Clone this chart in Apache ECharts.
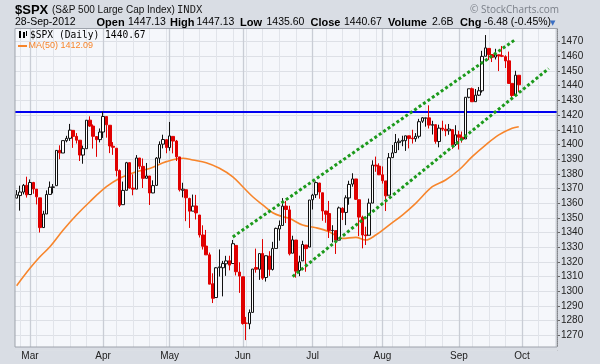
<!DOCTYPE html>
<html><head><meta charset="utf-8">
<script src="https://cdn.jsdelivr.net/npm/echarts@6/dist/echarts.min.js"></script>
<style>html,body{margin:0;padding:0;background:#d9dde4}#c{width:600px;height:364px}</style>
</head><body><div id="c"></div><script>
// ---------- data ----------
const tradingDays = [
  ['2012-02', [24,27,28,29]],
  ['2012-03', [1,2,5,6,7,8,9,12,13,14,15,16,19,20,21,22,23,26,27,28,29,30]],
  ['2012-04', [2,3,4,5,9,10,11,12,13,16,17,18,19,20,23,24,25,26,27,30]],
  ['2012-05', [1,2,3,4,7,8,9,10,11,14,15,16,17,18,21,22,23,24,25,29,30,31]],
  ['2012-06', [1,4,5,6,7,8,11,12,13,14,15,18,19,20,21,22,25,26,27,28,29]],
  ['2012-07', [2,3,5,6,9,10,11,12,13,16,17,18,19,20,23,24,25,26,27,30,31]],
  ['2012-08', [1,2,3,6,7,8,9,10,13,14,15,16,17,20,21,22,23,24,27,28,29,30,31]],
  ['2012-09', [4,5,6,7,10,11,12,13,14,17,18,19,20,21,24,25,26,27,28]],
  ['2012-10', [1,2,3,4,5,8,9,10,11,12,15]]
];
const opens = [
1363.46,1365.20,1367.56,1372.20,
1365.90,1374.09,1369.59,1363.63,1343.39,1352.65,1365.97,1370.78,1371.92,1395.95,1394.17,1402.55,1404.17,1409.59,1405.52,1402.89,1392.78,1397.11,1416.55,1412.52,1405.39,1403.31,
1408.47,1418.98,1413.09,1398.79,1397.45,1382.18,1358.98,1368.77,1387.61,1370.27,1369.57,1390.78,1385.08,1376.96,1378.53,1366.97,1372.11,1390.64,1400.19,1403.26,
1397.86,1405.50,1402.32,1391.51,1368.79,1369.16,1363.20,1354.58,1358.11,1351.93,1338.36,1330.78,1324.82,1305.05,1295.73,1316.09,1316.02,1318.72,1320.81,1318.90,1331.25,1313.09,
1309.87,1278.29,1277.82,1285.61,1316.15,1314.99,1325.72,1309.40,1324.02,1314.88,1329.19,1342.42,1344.83,1358.04,1355.43,1325.92,1334.90,1314.09,1320.71,1331.52,1330.12,
1362.33,1365.75,1373.72,1367.09,1354.66,1352.96,1341.40,1341.29,1334.81,1356.50,1353.68,1363.58,1373.01,1376.51,1362.34,1350.52,1338.35,1338.17,1360.05,1385.94,1385.27,
1379.32,1375.13,1365.45,1391.04,1394.46,1401.23,1402.26,1402.58,1405.87,1404.36,1403.89,1405.57,1415.84,1417.85,1418.13,1413.09,1413.49,1401.99,1411.13,1410.44,1409.32,1410.08,1400.07,
1406.54,1404.94,1403.74,1432.12,1437.92,1429.13,1433.56,1436.56,1460.07,1465.42,1461.19,1459.50,1461.05,1460.34,1459.76,1456.94,1441.60,1433.36,1447.13];
const highs = [
1368.92,1371.94,1373.09,1378.04,
1376.17,1374.53,1369.59,1363.63,1354.85,1368.72,1374.76,1373.04,1396.13,1399.42,1402.63,1405.88,1414.00,1409.59,1407.75,1402.89,1399.18,1416.58,1419.15,1413.65,1405.39,1410.89,
1422.38,1419.00,1413.09,1401.60,1397.45,1383.01,1374.71,1388.13,1387.61,1379.66,1392.76,1390.78,1390.46,1387.40,1378.53,1375.57,1391.37,1402.09,1406.64,1403.26,
1415.32,1405.50,1403.07,1391.51,1373.91,1369.16,1363.73,1365.88,1365.66,1351.93,1344.94,1341.78,1326.36,1312.24,1316.39,1328.49,1320.71,1324.14,1324.20,1334.93,1331.25,1319.74,
1309.87,1282.55,1287.62,1315.13,1329.05,1325.81,1335.52,1324.31,1327.28,1333.68,1343.32,1348.22,1363.46,1361.57,1358.27,1337.82,1334.90,1324.24,1334.40,1331.52,1362.17,
1366.35,1374.81,1373.85,1367.09,1354.87,1361.54,1345.00,1341.29,1357.70,1357.26,1365.36,1375.26,1380.39,1376.51,1362.34,1351.53,1343.98,1363.13,1389.19,1391.74,1387.16,
1385.03,1375.13,1394.16,1399.63,1407.14,1404.14,1405.95,1405.98,1405.87,1410.03,1407.73,1417.44,1418.71,1418.13,1426.68,1416.12,1413.49,1413.46,1416.17,1413.63,1413.95,1410.08,1413.09,
1409.31,1408.81,1432.12,1437.92,1438.74,1437.76,1439.15,1463.76,1474.51,1465.63,1461.47,1465.15,1461.23,1467.07,1460.72,1463.24,1441.60,1450.20,1447.13];
const lows = [
1363.46,1354.92,1365.97,1363.81,
1365.90,1366.42,1359.13,1340.03,1343.39,1352.65,1365.97,1366.69,1371.92,1389.97,1394.17,1401.47,1402.43,1397.68,1400.64,1388.73,1386.87,1397.11,1411.95,1397.20,1391.56,1401.42,
1404.46,1404.62,1394.09,1392.92,1378.24,1357.38,1358.98,1368.77,1369.85,1365.38,1369.57,1383.29,1370.30,1376.96,1358.79,1366.82,1372.11,1387.28,1397.31,1394.00,
1395.73,1393.92,1388.71,1367.96,1363.94,1347.75,1343.13,1354.58,1348.89,1336.61,1328.41,1324.79,1304.86,1291.98,1295.73,1310.04,1296.53,1310.50,1314.23,1318.90,1310.76,1298.90,
1277.25,1266.74,1274.16,1285.61,1312.68,1307.77,1307.73,1306.62,1310.51,1314.14,1329.19,1334.46,1344.83,1346.45,1324.41,1325.92,1309.27,1310.30,1320.71,1313.29,1330.12,
1355.70,1363.53,1363.02,1348.03,1346.65,1336.27,1333.25,1325.41,1334.81,1348.51,1345.07,1358.96,1371.21,1362.19,1337.56,1329.24,1331.50,1338.17,1360.05,1381.37,1379.17,
1373.35,1354.65,1365.45,1391.04,1394.46,1396.13,1398.80,1395.62,1397.32,1400.60,1401.83,1404.15,1414.67,1412.12,1410.86,1406.78,1400.50,1398.04,1409.11,1405.59,1406.57,1397.01,1398.96,
1396.56,1401.25,1403.74,1431.45,1428.98,1429.13,1432.99,1435.34,1460.07,1457.55,1456.13,1457.88,1449.98,1459.51,1452.06,1441.59,1430.53,1433.36,1435.60];
const closes = [
1365.74,1367.59,1372.18,1365.68,
1374.09,1369.63,1364.33,1343.36,1352.63,1365.91,1370.87,1371.09,1395.95,1394.28,1402.60,1404.17,1409.75,1405.52,1402.89,1392.78,1397.11,1416.51,1412.52,1405.54,1403.28,1408.47,
1419.04,1413.38,1398.96,1398.08,1382.20,1358.59,1368.71,1387.57,1370.26,1369.57,1390.78,1385.14,1376.92,1378.53,1366.94,1371.97,1390.69,1399.98,1403.36,1397.91,
1405.82,1402.31,1391.57,1369.10,1369.58,1363.72,1354.58,1357.99,1353.39,1338.35,1330.66,1324.80,1304.86,1295.22,1315.99,1316.63,1318.86,1320.68,1317.82,1332.42,1313.32,1310.33,
1278.04,1278.18,1285.50,1315.13,1314.99,1325.66,1308.93,1324.18,1314.88,1329.10,1342.84,1344.78,1357.98,1355.69,1325.51,1335.02,1313.72,1319.99,1331.85,1329.04,1362.16,
1365.51,1374.02,1367.58,1354.68,1352.46,1341.47,1341.45,1334.76,1356.78,1353.64,1363.67,1372.78,1376.51,1362.66,1350.52,1338.31,1337.89,1360.02,1385.97,1385.30,1379.32,
1375.32,1365.00,1390.99,1394.23,1401.35,1402.22,1402.80,1405.87,1404.11,1403.93,1405.53,1415.51,1418.16,1418.13,1413.17,1413.49,1402.08,1411.13,1410.44,1409.30,1410.49,1399.48,1406.58,
1404.94,1403.44,1432.12,1437.92,1429.08,1433.56,1436.56,1459.99,1465.77,1461.19,1459.32,1461.05,1460.26,1460.15,1456.89,1441.59,1433.32,1447.15,1440.67];
// 50-day moving average: [trading-day index, value]
const maIndex = [0,4,7,10,14,18,22,27,31,36,40,45,50,53,57,61,65,68,71,74,77,80,82,86,90,94,98,102,105,108,112,116,120,125,129,133,137,141,145,149,151];
const maValue = [1303.8,1315.6,1323.5,1330.3,1341.7,1351.9,1361,1371.2,1377,1381.4,1383.7,1388.3,1390.6,1389.4,1387.6,1383.8,1378,1371.2,1364.4,1358.8,1353.5,1350.8,1349.7,1345.1,1343.3,1340.6,1336,1336.7,1334.9,1338.3,1345.1,1351.9,1359.9,1371.2,1375.8,1382.6,1391.7,1399.6,1406.5,1411,1412.09];
// trend channel endpoints [index, value]
const upperChannel = [[65,1337],[150,1471.5]];
const lowerChannel = [[83,1310],[160,1451.7]];
const resistance = 1422;
const lastClose = 1440.67;
const lastMA = 1412.09;
const monthNames = ['Jan','Feb','Mar','Apr','May','Jun','Jul','Aug','Sep','Oct','Nov','Dec'];
const yTicks = {min:1260, max:1480, step:10};
// header values
const hdr = {sym:'$SPX', name:'(S&P 500 Large Cap Index)', exch:'INDX', date:'28-Sep-2012',
  open:'1447.13', high:'1447.13', low:'1435.60', close:'1440.67', vol:'2.6B', chg:'-6.48 (-0.45%)'};

// ---------- build ----------
const dates = [];
tradingDays.forEach(([m, ds]) => ds.forEach(d => dates.push(m + '-' + String(d).padStart(2,'0'))));
const candles = opens.map((o,i) => [o, closes[i], lows[i], highs[i]]);
const maData = maIndex.map((x,i) => [x, maValue[i]]);
const mon = s => +s.slice(5,7);
const isMonthStart = i => i > 0 && mon(dates[i]) !== mon(dates[i-1]);
const dow = s => new Date(s + 'T00:00:00Z').getUTCDay();
const isWeekStart = i => i > 0 && dow(dates[i]) < dow(dates[i-1]) && !isMonthStart(i);

const OUTER = '#d9dde4';
const FRAME = {x:15, y:28.5, w:542, h:318.5};
const sans = '"Liberation Sans", Arial, sans-serif';
const verd = '"DejaVu Sans", Verdana, sans-serif';
const mono = '"DejaVu Sans Mono", monospace';
function T(x, y, text, font, fill, extra) {
  return Object.assign({type:'text', x, y, silent:true, z:60,
    style:{text, font, fill, align:'left', verticalAlign:'middle'}}, extra||{});
}
const graphics = [
  {type:'rect', z:-10, silent:true, shape:{x:FRAME.x, y:FRAME.y, width:FRAME.w, height:FRAME.h}, style:{fill:'#f5f7fb'}},
  {type:'rect', z:45, silent:true, shape:{x:8, y:22, width:560, height:FRAME.y-22}, style:{fill:OUTER}},
  {type:'rect', z:45, silent:true, shape:{x:8, y:FRAME.y+FRAME.h, width:560, height:3.6}, style:{fill:OUTER}},
  {type:'rect', z:50, silent:true, shape:{x:FRAME.x, y:FRAME.y, width:FRAME.w, height:FRAME.h}, style:{fill:'none', stroke:'#9da2ab', lineWidth:1}},
  // header
  T(15, 10, hdr.sym, 'bold 13px ' + sans, '#000'),
  T(52, 10.5, hdr.name, '10px ' + sans, '#111'),
  T(177, 10.5, hdr.exch, '10.5px ' + mono, '#222'),
  T(470, 10, '\u00A9 StockCharts.com', '10px "Open Sans", sans-serif', '#7a7f88'),
  T(15, 22.5, hdr.date, '10.5px ' + sans, '#000'),
  T(96.5, 22.5, 'Open', 'bold 11px ' + sans, '#000'),
  T(128, 22.5, hdr.open, '10.5px ' + sans, '#000'),
  T(170, 22.5, 'High', 'bold 11px ' + sans, '#000'),
  T(196.5, 22.5, hdr.high, '10.5px ' + sans, '#000'),
  T(240, 22.5, 'Low', 'bold 11px ' + sans, '#000'),
  T(266.5, 22.5, hdr.low, '10.5px ' + sans, '#000'),
  T(310.5, 22.5, 'Close', 'bold 11px ' + sans, '#000'),
  T(344, 22.5, hdr.close, '10.5px ' + sans, '#000'),
  T(388, 22.5, 'Volume', 'bold 11px ' + sans, '#000'),
  T(432, 22.5, hdr.vol, '10.5px ' + sans, '#000'),
  T(460, 22.5, 'Chg', 'bold 11px ' + sans, '#000'),
  T(484, 22.5, hdr.chg, '10.5px ' + sans, '#000'),
  T(550, 23, '\u25BC', '7px ' + verd, '#3a6fc4'),
  // legend
  {type:'rect', z:60, silent:true, shape:{x:19, y:31, width:2, height:7}, style:{fill:'#000'}},
  {type:'rect', z:60, silent:true, shape:{x:23, y:32, width:2, height:6}, style:{fill:'#000'}},
  {type:'rect', z:60, silent:true, shape:{x:26, y:31, width:1, height:5}, style:{fill:'#000'}},
  T(30, 35.5, hdr.sym + ' (Daily) ' + hdr.close, '9.6px ' + mono, '#000'),
  {type:'rect', z:60, silent:true, shape:{x:18, y:45, width:9, height:2}, style:{fill:'#f7852b'}},
  T(28.5, 46, 'MA(50) ' + lastMA.toFixed(2), '9px ' + sans, '#f7852b')
];

const tagLabel = (txt, border, bold) => ({show:true, position:'end', distance:2, formatter:txt,
  backgroundColor:'#fff', borderColor:border, borderWidth:1, padding:[1,2,0,2],
  color:'#000', fontFamily:sans, fontSize:10.5, fontWeight: bold ? 'bold' : 'normal'});

const chart = echarts.init(document.getElementById('c'), null, {width:600, height:364});
chart.setOption({
  animation:false,
  backgroundColor: OUTER,
  graphic: graphics,
  grid: {left:FRAME.x, right:600-FRAME.x-FRAME.w, top:27.0, bottom:14.0, containLabel:false, outerBoundsMode:'none'},
  xAxis: [
    {type:'category', data:dates, boundaryGap:true,
     axisLine:{show:false}, axisTick:{show:false},
     axisLabel:{interval:(i)=>isMonthStart(i), formatter:(v)=>monthNames[mon(v)-1], margin:1.5,
       color:'#222', fontFamily:sans, fontSize:10},
     splitLine:{show:true, alignWithLabel:true, interval:(i)=>isMonthStart(i), lineStyle:{color:'#c9cdd5', width:1.3}}},
    {type:'category', data:dates, boundaryGap:true, gridIndex:0, position:'bottom',
     axisLine:{show:false}, axisTick:{show:false}, axisLabel:{show:false},
     splitLine:{show:true, alignWithLabel:true, interval:(i)=>isWeekStart(i), lineStyle:{color:'#e1e4ea', width:1}}}
  ],
  yAxis: {type:'value', position:'right', min:yTicks.min, max:yTicks.max, interval:yTicks.step, scale:true,
    axisLine:{show:true, lineStyle:{color:'#666', type:'dotted'}},
    axisTick:{show:true, length:3, lineStyle:{color:'#666'}},
    axisLabel:{margin:4, color:'#222', fontFamily:sans, fontSize:10, showMinLabel:false, showMaxLabel:false,
      formatter:(v)=>String(v)},
    splitLine:{show:true, lineStyle:{color:'#dde0e6', width:1}}},
  series: [
    {type:'candlestick', name:'$SPX', data:candles, barWidth:3, z:5,
     itemStyle:{color:'#ffffff', color0:'#e00000', borderColor:'#111', borderColor0:'#e00000', borderWidth:1},
     markLine:{silent:true, symbol:['none','none'], animation:false,
       data:[
         {yAxis:resistance, lineStyle:{color:'#0000f0', width:2, type:'solid'}, label:{show:false}},
         {yAxis:lastClose, lineStyle:{opacity:0}, label:tagLabel(lastClose.toFixed(2), '#000', true)}
       ]}},
    {type:'line', name:'MA(50)', data:maData, smooth:0.35, showSymbol:false, symbol:'none', z:4,
     lineStyle:{color:'#f7852b', width:1.6},
     markLine:{silent:true, symbol:['none','none'], animation:false,
       data:[{yAxis:lastMA, lineStyle:{opacity:0}, label:tagLabel(lastMA.toFixed(2), '#f7852b', false)}]}},
    {type:'line', data:upperChannel, showSymbol:false, symbol:'none', z:6,
     lineStyle:{color:'#1c9a1c', width:3, type:[3,2.4]}},
    {type:'line', data:lowerChannel, showSymbol:false, symbol:'none', z:6,
     lineStyle:{color:'#1c9a1c', width:3, type:[3,2.4]}}
  ]
});
</script></body></html>
